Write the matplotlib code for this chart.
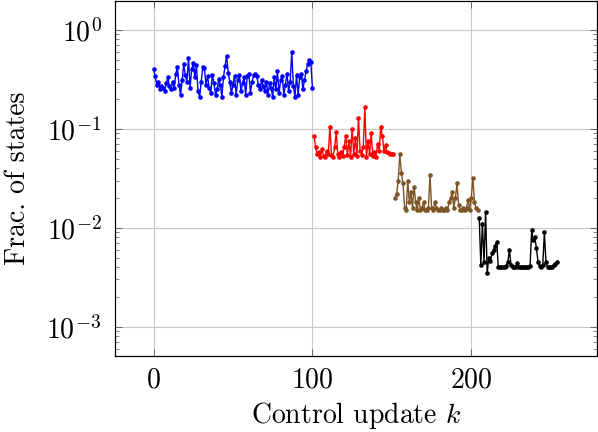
import numpy as np
import matplotlib
matplotlib.use('Agg')
import matplotlib.pyplot as plt

plt.rcParams['font.family'] = 'cmr10'
plt.rcParams['mathtext.fontset'] = 'cm'
plt.rcParams['axes.formatter.use_mathtext'] = True

# fraction of states per control update, four phases
blue_start = 0
blue_vals = [
    0.40, 0.34, 0.28, 0.30, 0.25, 0.27, 0.26, 0.24, 0.29, 0.33,
    0.27, 0.25, 0.30, 0.26, 0.36, 0.42, 0.28, 0.22, 0.31, 0.45,
    0.35, 0.30, 0.52, 0.26, 0.40, 0.46, 0.33, 0.44, 0.24, 0.21,
    0.30, 0.42, 0.41, 0.28, 0.34, 0.26, 0.23, 0.35, 0.29, 0.22,
    0.25, 0.32, 0.28, 0.21, 0.33, 0.43, 0.55, 0.37, 0.30, 0.23,
    0.28, 0.34, 0.22, 0.31, 0.35, 0.24, 0.29, 0.33, 0.22, 0.34,
    0.36, 0.23, 0.30, 0.35, 0.36, 0.34, 0.28, 0.25, 0.31, 0.27,
    0.24, 0.30, 0.22, 0.29, 0.26, 0.21, 0.33, 0.25, 0.38, 0.23,
    0.31, 0.34, 0.22, 0.28, 0.36, 0.24, 0.30, 0.60, 0.27, 0.21,
    0.35, 0.22, 0.33, 0.36, 0.25, 0.31, 0.38, 0.45, 0.50, 0.47,
    0.26,
]

red_start = 101
red_vals = [
    0.085, 0.065, 0.055, 0.058, 0.052, 0.062, 0.053, 0.052, 0.060, 0.056,
    0.105, 0.054, 0.052, 0.065, 0.092, 0.055, 0.052, 0.058, 0.053, 0.066,
    0.085, 0.054, 0.075, 0.052, 0.100, 0.056, 0.080, 0.053, 0.130, 0.060,
    0.054, 0.066, 0.165, 0.052, 0.075, 0.055, 0.090, 0.053, 0.058, 0.052,
    0.070, 0.060, 0.105, 0.085, 0.060, 0.068, 0.058, 0.057, 0.056, 0.055,
    0.055,
]

brown_start = 152
brown_vals = [
    0.020, 0.022, 0.030, 0.055, 0.036, 0.028, 0.016, 0.015, 0.030, 0.018,
    0.023, 0.016, 0.026, 0.018, 0.015, 0.020, 0.015, 0.016, 0.018, 0.015,
    0.015, 0.016, 0.034, 0.016, 0.015, 0.018, 0.016, 0.015, 0.015, 0.016,
    0.015, 0.015, 0.016, 0.015, 0.018, 0.020, 0.023, 0.016, 0.020, 0.028,
    0.017, 0.015, 0.015, 0.016, 0.015, 0.016, 0.019, 0.015, 0.020, 0.032,
    0.018, 0.016, 0.015,
]

black_start = 205
black_vals = [
    0.0125, 0.0042, 0.0110, 0.0045, 0.0145, 0.0035, 0.0050, 0.0046, 0.0055, 0.0060,
    0.0065, 0.0072, 0.0040, 0.0040, 0.0040, 0.0040, 0.0040, 0.0041, 0.0045, 0.0060,
    0.0042, 0.0040, 0.0040, 0.0040, 0.0044, 0.0040, 0.0040, 0.0040, 0.0040, 0.0040,
    0.0040, 0.0040, 0.0041, 0.0094, 0.0075, 0.0080, 0.0062, 0.0045, 0.0041, 0.0040,
    0.0042, 0.0090, 0.0045, 0.0040, 0.0040, 0.0040, 0.0040, 0.0042, 0.0043, 0.0045,
]

series = [
    (blue_start, blue_vals, '#0000ff'),
    (red_start, red_vals, '#ff0000'),
    (brown_start, brown_vals, '#7f5526'),
    (black_start, black_vals, '#000000'),
]

fig = plt.figure(figsize=(5.98, 4.32), dpi=100)
ax = fig.add_axes([0.193, 0.176, 0.805, 0.822])

for start, vals, col in series:
    k = np.arange(start, start + len(vals))
    ax.plot(k, vals, color=col, lw=1.0, marker='o', markersize=3.3,
            markeredgewidth=0, zorder=3)

ax.set_yscale('log')
ax.set_xlim(-24, 279)
ax.set_ylim(10 ** -3.296, 10 ** 0.293)
ax.set_xticks([0, 100, 200])
ax.set_yticks([1e-3, 1e-2, 1e-1, 1e0])

ax.grid(True, which='major', color='#c8c8c8', lw=0.8)
ax.set_axisbelow(True)
ax.tick_params(which='both', direction='in', top=True, right=True,
               labelsize=20, color='#555555')
ax.tick_params(axis='y', which='major', length=5, width=0.6, pad=10)
ax.tick_params(axis='x', which='major', length=5, width=0.6, pad=8)
ax.tick_params(which='minor', length=3, width=0.5)
for s in ax.spines.values():
    s.set_linewidth(0.9)

ax.set_xlabel('Control update $k$', fontsize=20, labelpad=5)
ax.set_ylabel('Frac. of states', fontsize=20, labelpad=11)

fig.savefig('out.png', dpi=100)
